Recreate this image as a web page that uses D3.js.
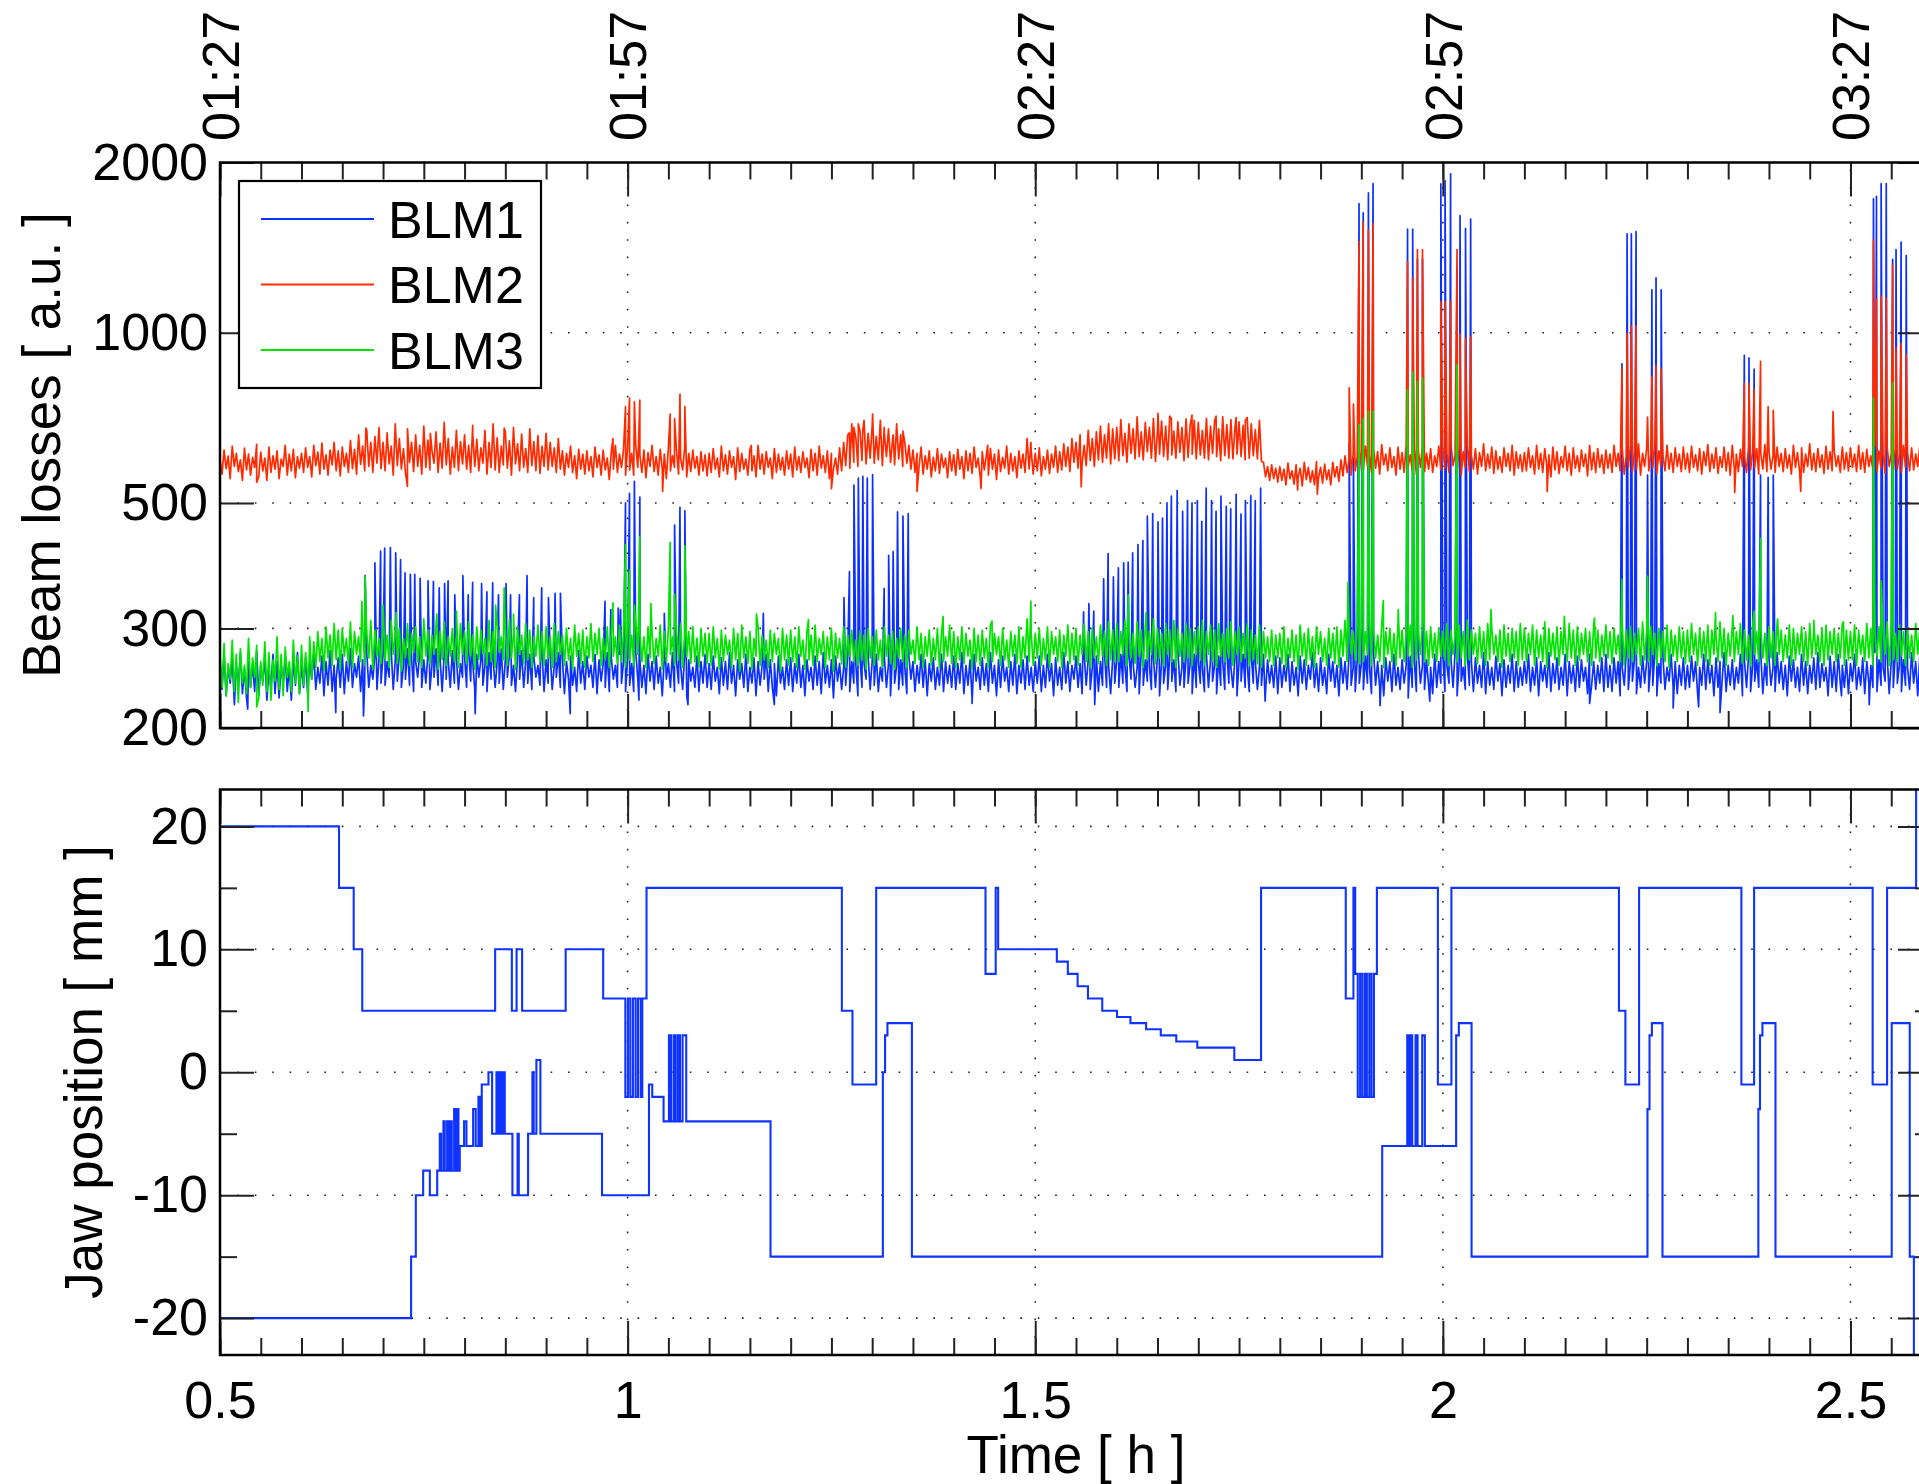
<!DOCTYPE html>
<html><head><meta charset="utf-8">
<script src="https://cdn.jsdelivr.net/npm/d3@7"></script>
<style>
body{margin:0;background:#fff}
svg{display:block}
text{font-family:"Liberation Sans",Arial,Helvetica,sans-serif;fill:#000}
</style>
</head><body>
<svg id="c" width="1919" height="1484"></svg>
<script>
// ---------------- DATA ----------------
const sampleStart = 0.5;      // h, first baseline reading
const sampleStep = 0.0025;    // h, spacing of baseline readings (one row = 0.1 h)
const seriesNames = ["BLM1", "BLM2", "BLM3"];

const blm1Base = [
262,234,270,228,256,240,266,222,258,238,272,230,254,226,268,236,260,232,274,228,258,242,266,224,254,236,270,230,262,226,258,240,268,232,256,224,264,238,272,230,
258,236,266,230,262,244,270,234,256,240,268,228,262,238,274,232,258,244,266,236,270,230,262,242,276,236,260,246,268,232,264,240,272,236,258,244,270,234,264,240,
270,238,262,246,274,234,264,242,270,236,258,244,276,238,266,232,262,246,272,236,264,240,270,234,258,246,276,238,264,232,270,244,262,236,274,240,266,234,260,246,
268,236,274,242,262,234,270,246,264,238,258,232,272,244,266,236,262,240,276,234,264,246,270,238,258,232,268,244,274,236,262,240,270,234,266,246,258,238,272,232,
264,240,270,234,258,246,272,236,266,230,262,244,268,238,256,232,274,240,262,234,268,246,258,236,270,230,264,242,260,236,272,232,266,244,258,236,270,240,262,232,
266,238,260,232,272,244,264,236,258,230,270,242,262,234,268,240,256,228,266,244,260,236,272,232,262,240,258,234,270,228,264,242,256,236,268,232,262,240,270,236,
260,234,268,242,256,230,266,238,262,234,272,240,258,228,264,244,260,236,270,232,256,240,266,228,262,238,258,244,270,232,264,236,260,228,268,240,256,234,264,238,
266,232,260,240,270,236,258,228,264,242,256,234,268,238,262,230,272,240,258,236,264,226,268,242,260,234,256,238,270,232,262,240,258,228,266,236,260,244,268,234,
262,238,270,232,256,242,266,236,260,228,272,240,258,234,264,238,256,230,268,244,262,232,258,240,270,236,264,228,260,242,266,234,256,238,270,232,262,240,258,236,
268,234,260,240,272,230,258,238,264,226,270,242,256,234,266,238,260,232,272,240,258,228,264,236,268,242,256,232,262,238,270,230,258,240,264,234,268,238,256,232,
262,240,268,232,258,236,270,242,260,228,266,238,256,234,272,240,262,232,258,244,268,236,260,230,270,238,264,234,256,242,268,232,262,238,272,236,258,230,266,240,
264,236,270,240,258,232,268,244,262,236,256,230,272,238,264,242,258,234,266,236,270,228,262,240,258,234,268,242,264,232,272,238,256,236,266,240,260,230,270,236,
262,240,256,232,270,236,264,242,258,230,268,238,262,234,272,240,256,236,266,228,262,242,270,236,258,232,268,240,262,234,256,238,270,232,264,240,258,236,268,230,
266,236,258,242,270,232,262,238,256,228,268,240,264,234,258,244,272,236,260,232,266,238,256,230,270,242,262,236,258,228,266,240,262,234,270,238,256,232,264,240,
260,234,268,240,256,230,272,238,262,236,258,228,266,242,262,232,270,238,256,234,264,240,258,226,268,236,262,232,272,240,258,234,264,238,256,230,270,236,262,240,
268,232,258,240,264,236,272,228,260,242,256,234,270,238,262,232,266,240,258,236,272,230,262,238,256,234,268,242,260,228,264,236,258,240,270,232,262,236,256,238,
262,240,270,232,256,238,266,228,262,242,258,236,272,232,260,240,266,234,256,238,270,228,262,240,258,232,268,236,264,242,256,230,270,238,262,234,258,240,266,232,
270,236,258,232,266,240,262,228,256,238,272,234,260,242,264,230,256,236,268,240,262,232,258,238,272,228,260,240,266,234,256,242,270,236,262,230,258,238,266,234,
258,236,268,242,262,230,256,238,270,234,264,240,258,228,266,236,262,242,272,232,258,238,264,234,256,240,270,228,262,236,268,232,258,242,264,236,270,230,260,238,
266,238,256,232,272,240,262,234,258,228,268,242,264,236,256,232,270,238,262,230,258,240,266,234,272,236,260,242,256,228,268,236,262,232,270,240,258,236,264,230,
260,242,270,234,256,238,266,230,262,240,258,236,272,232,264,238,256,242,268,230,262,236,270,240,258,232,264,238,256,234,272,240,262,228,268,236,258,242,266,232];

const blm2Base = [
598,562,620,575,605,552,630,580,612,568,596,548,625,572,610,560,602,578,635,556,615,570,600,548,628,566,606,574,618,552,598,580,632,560,610,570,622,554,604,576,
612,566,626,578,604,556,632,582,615,562,638,574,608,560,620,584,640,570,618,558,628,580,612,566,645,575,622,562,660,585,630,570,672,580,640,566,655,588,680,575,
640,570,665,586,630,560,690,582,650,574,624,566,676,590,640,568,660,580,632,562,684,578,646,572,620,588,668,566,638,576,694,584,650,562,628,578,672,570,642,586,
660,574,632,566,686,580,648,570,626,588,672,562,640,578,690,572,652,566,630,584,668,576,644,560,680,586,636,570,662,578,624,566,676,582,642,570,658,564,630,580,
664,572,640,580,626,566,650,574,618,560,612,578,630,566,606,552,622,574,610,562,618,570,604,556,628,578,608,560,620,572,600,550,616,574,632,566,610,578,622,560,
626,572,612,560,630,578,608,566,620,554,614,580,632,568,604,560,622,574,610,552,626,570,606,578,618,562,600,572,628,556,612,568,620,576,604,560,616,570,608,558,
612,566,624,574,600,556,630,570,608,562,618,578,604,550,626,568,612,574,598,560,622,570,606,556,632,574,610,562,616,578,600,552,624,566,610,572,602,560,618,574,
610,556,628,572,604,566,616,578,600,554,622,570,612,560,630,576,606,566,618,552,612,574,600,562,626,570,640,582,660,576,690,590,650,580,672,594,700,586,664,600,
684,588,656,596,700,582,662,604,676,590,648,584,690,598,660,580,640,588,632,574,620,566,612,580,628,562,606,574,618,556,602,570,624,564,610,578,600,554,616,570,
608,560,622,574,604,552,618,570,612,564,628,578,600,556,616,572,606,560,624,574,610,550,620,568,602,576,630,562,612,570,604,554,618,576,610,566,650,574,620,562,
612,570,626,558,604,574,620,564,610,578,630,566,616,572,636,580,628,568,650,590,640,576,660,588,632,582,672,594,650,580,668,596,684,590,660,600,690,586,676,598,
680,594,702,606,664,590,690,612,676,598,710,604,668,596,694,616,680,600,706,592,672,610,698,604,684,596,712,608,670,600,696,614,680,594,704,602,686,610,700,598,
694,608,672,600,706,596,684,612,698,604,676,594,710,606,688,600,702,598,680,610,696,604,686,596,708,600,690,606,674,598,700,592,590,556,580,548,584,552,576,544,
580,548,574,538,588,552,570,540,584,556,576,536,590,550,578,544,570,538,592,554,578,542,586,550,572,538,590,556,580,546,596,558,606,566,598,560,612,570,604,566,
618,572,630,580,608,566,624,576,616,562,634,584,610,570,626,578,604,560,628,574,614,566,632,580,608,570,622,562,616,578,636,568,612,574,624,566,606,580,630,572,
622,576,612,566,634,582,608,570,626,560,616,578,630,568,606,574,624,562,614,580,636,570,610,576,628,564,618,574,604,566,626,580,612,570,632,560,616,576,608,568,
614,570,626,578,606,562,632,574,612,566,624,580,608,556,628,572,616,564,604,578,630,570,612,560,626,576,606,568,620,580,610,558,632,572,614,566,624,578,608,564,
620,576,610,566,632,580,612,570,626,562,606,578,630,568,616,574,636,560,612,580,624,570,608,576,628,564,618,582,606,570,632,574,612,566,626,580,610,568,628,574,
612,566,630,578,608,570,624,562,616,582,634,568,610,576,626,564,604,578,628,570,614,560,632,576,610,568,622,580,606,566,630,572,616,578,624,562,612,574,634,568,
618,574,606,566,628,580,612,568,624,576,608,562,632,578,614,570,626,566,610,580,636,572,612,568,624,578,608,564,630,574,616,570,620,580,606,566,628,574,614,570,
626,578,610,568,632,574,614,566,622,580,606,572,630,568,618,576,610,564,628,580,612,570,624,574,608,566,632,578,616,570,626,572,610,580,630,566,614,576,624,570];

const blm3Base = [
268,236,282,228,260,244,286,232,270,222,276,240,258,230,288,236,266,246,280,226,262,238,284,232,272,224,264,242,290,234,270,228,278,246,262,232,286,240,268,230,
280,238,272,248,290,244,284,256,296,262,288,252,302,266,292,258,306,264,298,254,300,268,288,260,308,256,296,270,290,262,304,258,294,266,310,254,298,268,288,260,
304,264,292,256,310,270,296,260,300,252,288,266,306,258,294,272,302,262,290,256,312,268,298,260,292,270,304,254,296,264,308,258,290,268,300,262,294,256,306,270,
296,260,308,268,292,254,302,264,298,270,288,258,310,262,296,256,304,272,290,264,300,258,312,266,294,254,302,270,292,260,306,264,298,256,290,268,304,262,296,258,
302,266,290,256,306,262,296,270,292,258,300,264,288,254,304,268,294,260,298,256,290,266,306,262,294,270,300,258,288,264,302,256,296,268,290,260,304,262,294,256,
300,264,292,258,306,270,296,262,290,256,302,266,294,260,288,268,304,254,296,262,300,270,290,258,298,264,306,256,292,268,296,260,302,262,288,256,300,268,294,260,
294,258,302,266,288,254,298,262,292,270,286,256,300,264,294,252,304,266,290,260,296,254,288,268,302,258,292,264,286,256,298,262,294,270,288,252,300,264,292,258,
298,262,290,256,302,268,286,254,296,264,292,258,304,262,288,270,296,256,290,264,300,252,294,266,288,260,302,256,292,268,298,262,286,258,296,264,292,254,300,266,
290,258,298,264,286,256,302,268,292,260,296,254,288,266,300,262,292,256,298,270,286,260,302,264,294,256,290,268,298,258,288,264,300,256,294,262,290,268,304,260,
296,256,290,264,302,260,294,268,286,254,300,262,292,258,298,266,288,256,304,262,294,270,290,258,300,264,286,256,296,268,292,260,302,256,290,266,312,262,296,258,
294,266,300,258,288,264,302,256,296,270,290,262,298,256,292,268,304,260,294,264,300,258,292,270,306,262,296,256,300,266,290,260,304,268,296,258,308,264,298,262,
306,262,296,270,310,258,300,266,294,260,308,268,298,256,304,264,296,270,312,260,300,266,294,258,306,270,298,262,310,256,300,268,294,262,306,266,300,258,296,270,
302,264,310,258,296,270,304,262,298,256,306,268,294,262,300,266,308,258,296,270,302,262,294,266,306,258,298,264,292,260,304,256,296,266,290,262,298,258,292,266,
294,260,302,256,288,266,298,262,292,254,304,268,294,258,300,264,290,256,302,270,296,262,288,258,300,266,294,260,302,256,298,268,310,262,300,270,296,264,304,260,
302,262,296,270,308,258,298,266,292,262,304,256,296,270,300,262,294,258,306,266,298,262,292,268,304,256,300,264,294,270,308,262,296,258,302,266,294,262,300,268,
296,264,306,258,298,270,292,262,304,266,296,258,310,264,298,270,294,260,302,266,296,258,306,264,300,270,292,262,298,256,304,268,294,262,300,266,296,258,306,264,
300,262,294,270,304,258,298,266,292,262,308,256,300,268,294,264,302,258,296,270,292,262,306,266,298,258,302,264,294,270,300,262,296,258,304,266,298,262,292,268,
304,266,296,260,300,270,292,262,306,258,298,266,302,262,294,270,300,258,308,264,296,262,302,270,294,258,300,266,296,262,304,256,298,268,292,262,302,266,296,260,
298,262,306,270,294,258,300,266,296,262,304,258,298,270,292,262,308,266,300,258,294,268,302,262,296,270,306,260,298,264,292,258,304,270,296,262,300,266,294,258,
302,266,296,258,306,270,298,262,292,266,304,258,300,264,294,270,302,262,296,258,306,266,298,270,292,262,300,258,304,264,296,270,300,262,294,266,306,258,298,264,
296,264,304,258,298,270,292,262,306,266,300,258,294,268,302,262,296,270,308,258,300,264,294,262,304,268,296,258,300,266,292,262,306,270,298,258,302,264,296,266];

// spikes and outliers: [time h, value]
const blm1Spikes = [
[0.5176,220],[0.534,216],[0.642,213],[0.676,210],
[0.678,372],[0.690,392],[0.697,411],[0.702,416],[0.709,417],[0.7155,408],[0.7215,397],[0.727,376],
[0.7335,374],[0.7389,374],[0.7455,368],[0.7552,364],[0.7618,363],[0.7689,354],[0.7755,360],[0.7798,364],
[0.788,344],[0.7979,372],[0.8045,344],[0.8099,362],[0.813,212],[0.8209,360],[0.8274,348],[0.8345,361],[0.8416,344],
[0.8509,360],[0.8564,344],[0.8673,344],[0.8766,372],[0.8848,340],[0.8946,354],[0.9029,340],[0.911,346],[0.9176,346],
[0.9296,212],[0.9723,335],[0.9794,324],[0.9885,326],[0.9914,324],
[0.9974,500],[1.0023,520],[1.0083,546],[1.0139,224],[1.0150,512],[1.045,319],[1.0576,457],[1.0642,491],[1.0702,484],
[1.074,220],[1.1665,319],[1.180,220],
[1.2654,340],[1.2721,378],[1.2776,538],[1.283,553],[1.2885,557],[1.294,553],[1.3005,561],
[1.3147,353],[1.3202,404],[1.3257,410],[1.3311,482],[1.3377,474],[1.3442,479],[1.4225,221],
[1.5593,321],[1.5658,332],[1.5718,322],[1.573,220],[1.5839,367],[1.5894,407],[1.5959,370],[1.6020,384],[1.6085,392],
[1.6140,393],[1.6195,408],[1.6260,422],[1.6320,429],[1.6375,474],[1.6441,479],[1.6506,463],[1.6561,470],
[1.6616,500],[1.6670,514],[1.6741,526],[1.6808,483],[1.6868,505],[1.6923,500],[1.6988,505],[1.7043,464],
[1.7097,531],[1.7163,505],[1.7218,483],[1.7278,514],[1.7343,493],[1.7398,488],[1.7464,518],[1.7524,478],
[1.7578,505],[1.7644,515],[1.7699,505],[1.7765,531],[1.782,223],
[1.8851,640],[1.8903,600],[1.8972,1691],[1.9023,1629],[1.9087,1767],[1.9144,1835],[1.923,219],
[1.9567,1525],[1.9630,1525],[1.9688,1350],[1.9750,1350],[1.984,223],
[1.9975,1833],[2.0027,1858],[2.0095,1910],[2.0174,1300],[2.0211,1611],[2.0278,1529],[2.0341,1589],
[2.180,221],
[2.2197,881],[2.226,1495],[2.2312,1495],[2.237,1509],[2.2511,560],[2.2564,1191],[2.2615,1251],[2.2678,1191],
[2.2825,217],[2.3137,218],[2.340,213],
[2.3698,912],[2.3755,903],[2.3818,862],[2.3897,560],[2.3990,555],[2.4053,560],[2.489,228],[2.523,220],
[2.5282,1725],[2.5319,1743],[2.5376,1835],[2.5439,1835],[2.5517,1348],[2.5559,1403],[2.5621,1447],[2.5684,1369]];

const blm2Spikes = [
[0.545,544],[0.679,678],[0.7299,535],[0.758,664],[0.81,664],[0.8486,678],
[0.982,650],[0.9974,740],[1.0023,766],[1.0083,755],[1.0150,760],[1.0429,524],[1.0522,718],[1.0576,705],[1.0642,779],[1.0702,740],
[1.1517,632],[1.25,530],
[1.2721,665],[1.2776,680],[1.283,690],[1.2885,672],[1.3005,718],[1.3147,680],[1.3257,660],[1.3377,670],
[1.355,524],[1.4335,530],[1.4417,632],[1.4947,640],[1.5564,534],
[1.6506,720],[1.6670,705],[1.6923,715],[1.7218,712],[1.7464,708],[1.7578,700],
[1.8219,527],[1.846,518],
[1.8851,799],[1.8903,748],[1.8972,1450],[1.9023,1568],[1.9087,1522],[1.9144,1558],
[1.9567,1336],[1.9630,1250],[1.9688,1403],[1.9750,1403],
[1.9975,1135],[2.0027,1135],[2.0095,1135],[2.0174,1403],[2.0211,993],[2.0278,975],[2.0341,983],
[2.128,524],
[2.2197,866],[2.226,996],[2.2312,1027],[2.237,1027],[2.2511,709],[2.2564,836],[2.2615,875],[2.2678,862],
[2.358,522],
[2.3698,814],[2.3755,814],[2.3818,793],[2.3897,890],[2.3990,740],[2.4053,729],
[2.439,524],[2.4786,726],
[2.5282,1459],[2.5319,1146],[2.5376,1160],[2.5439,1150],[2.5517,1318],[2.5559,940],[2.5621,957],[2.5684,915]];

const blm3Spikes = [
[0.545,218],[0.608,214],
[0.674,335],[0.678,370],[0.700,330],[0.716,320],[0.766,318],[0.790,322],[0.838,330],[0.8486,354],[0.860,318],
[0.982,333],[0.9974,422],[1.0023,380],[1.0083,330],[1.0150,436],[1.0286,332],[1.0522,426],[1.0576,345],[1.0702,420],
[1.158,318],[1.2218,311],[1.387,315],[1.447,309],[1.4947,335],[1.614,344],[1.636,320],
[1.8836,362],[1.8972,688],[1.9023,705],[1.9087,726],[1.9144,726],[1.927,336],[1.9452,324],
[1.9567,793],[1.9630,852],[1.9688,820],[1.9750,831],[2.0174,878],[2.059,324],
[2.149,315],[2.186,313],
[2.2197,366],[2.2511,371],[2.3345,320],[2.3557,316],[2.3818,322],[2.3897,433],[2.4106,312],[2.455,310],[2.4914,308],
[2.5282,766],[2.5376,364],[2.5517,816]];

// jaw positions: [time h, position mm] (value held until next point)
const upperJaw = [
[0.5,20],[0.646,15],[0.664,10],[0.6745,5],[0.8375,10],[0.858,5],[0.8638,10],[0.8706,5],[0.924,10],[0.97,6],
[0.9972,-2],[1.0004,6],[1.0033,-2],[1.0065,6],[1.0098,-2],[1.0127,6],[1.0160,-2],[1.0180,6],
[1.0232,15],[1.2628,5],[1.2758,-1],[1.3049,15],[1.439,8],[1.4515,15],[1.4545,10],[1.5265,9],[1.540,8],
[1.552,7],[1.5647,6],[1.5822,5],[1.6003,4.5],[1.6168,4],[1.636,3.5],[1.654,3],[1.673,2.5],[1.6988,2],
[1.7442,1],[1.777,15],[1.8809,6],[1.8903,15],[1.8925,8],
[1.8956,-2],[1.8985,8],[1.9012,-2],[1.9042,8],[1.9068,-2],[1.9098,8],[1.9125,-2],[1.9155,8],
[1.9191,15],[1.9939,-1],[2.0105,15],[2.216,5],[2.2239,-1],[2.2407,15],[2.3662,-1],[2.3818,15],
[2.5272,-1],[2.5449,15],[2.5805,26],[2.6,26]];

const lowerJaw = [
[0.5,-20],[0.7344,-15],[0.7402,-10],[0.7492,-8],[0.7574,-10],[0.7664,-8],
[0.7696,-5],[0.7712,-8],[0.7741,-4],[0.7757,-8],[0.7786,-4],[0.7802,-8],[0.7827,-4],[0.7843,-8],
[0.7872,-3],[0.7888,-8],[0.7908,-3],[0.7925,-8],[0.7941,-6],[0.7994,-4],[0.8023,-6],
[0.8105,-3],[0.8137,-6],[0.8170,-2],[0.8186,-6],[0.8211,-1],[0.8293,0],[0.8338,-5],
[0.8391,0],[0.8405,-5],[0.8419,0],[0.8435,-5],[0.8450,0],[0.8470,-5],[0.8480,0],[0.8493,-5],
[0.8587,-10],[0.8650,-5],[0.8665,-10],[0.8779,-5],[0.8832,0],[0.8848,-5],[0.8881,1],[0.8930,-5],
[0.9686,-10],[1.0262,-1],[1.0302,-2],[1.0441,-4],
[1.0507,3],[1.0532,-4],[1.0564,3],[1.0589,-4],[1.0617,3],[1.0642,-4],[1.0674,3],[1.0719,-4],
[1.1753,-15],[1.3131,0],[1.3158,3],[1.3187,4],[1.3487,-15],[1.9256,-6],
[1.9563,3],[1.9580,-6],[1.9604,3],[1.9624,-6],[1.9665,3],[1.9690,-6],[1.9747,3],[1.9779,-6],
[2.0163,3],[2.0196,4],[2.0352,-15],[2.251,-3],[2.2535,3],[2.2564,4],[2.2694,-15],
[2.387,-3],[2.389,3],[2.392,4],[2.408,-15],[2.5506,4],[2.5727,-15],[2.5778,-26],[2.6,-26]];

// ticks
const timeMajor = [0.5, 1, 1.5, 2, 2.5];
const timeMajorLabels = ["0.5", "1", "1.5", "2", "2.5"];
const clockLabels = ["01:27", "01:57", "02:27", "02:57", "03:27"];
const lossTicks = [200, 300, 500, 1000, 2000];
const lossGrid = [300, 500, 1000];
const jawTicks = [-20, -10, 0, 10, 20];
const jawMinor = [-15, -5, 5, 15];

// ---------------- LAYOUT ----------------
const FONT = '"Liberation Sans", Arial, Helvetica, sans-serif';
const L = 220, R = 1932;
const T1 = 162.5, B1 = 728, T2 = 789.5, B2 = 1355;
const colors = ["#0c30ff", "#ff2a00", "#00e400"];
const jawColor = "#1034ff";

const x = d3.scaleLinear().domain([0.5, 2.6]).range([L, R]);
const y1 = d3.scaleLog().domain([200, 2000]).range([B1, T1]);
const y2 = d3.scaleLinear().domain([-23, 23]).range([B2, T2]);
const minorTimes = d3.range(0, 43).map(i => 0.5 + i * 0.05);
const hyphenFmt = d => (d < 0 ? "-" : "") + Math.abs(d);

const svg = d3.select("#c");
const defs = svg.append("defs");
defs.append("clipPath").attr("id", "clip1").append("rect")
  .attr("x", L).attr("y", T1).attr("width", R - L).attr("height", B1 - T1);
defs.append("clipPath").attr("id", "clip2").append("rect")
  .attr("x", L).attr("y", T2).attr("width", R - L).attr("height", B2 - T2);

// grid
function dotted(sel) {
  return sel.attr("stroke", "#222").attr("stroke-width", 1.6).attr("stroke-dasharray", "1.6,15.8");
}
const grid = svg.append("g");
[[T1, B1], [T2, B2]].forEach(([t, b]) => {
  grid.selectAll(null).data(timeMajor.slice(1)).enter().append("line")
    .attr("x1", d => x(d)).attr("x2", d => x(d)).attr("y1", b).attr("y2", t).call(dotted);
});
grid.selectAll(null).data(lossGrid).enter().append("line")
  .attr("x1", L).attr("x2", R).attr("y1", d => y1(d)).attr("y2", d => y1(d)).call(dotted);
grid.selectAll(null).data(jawTicks).enter().append("line")
  .attr("x1", L).attr("x2", R).attr("y1", d => y2(d)).attr("y2", d => y2(d)).call(dotted);

// loss series
function build(base, spikes) {
  const pts = base.map((v, i) => [sampleStart + i * sampleStep, v]);
  spikes.forEach(s => pts.push(s));
  pts.sort((a, b) => a[0] - b[0]);
  return pts;
}
const lossSeries = [
  build(blm1Base, blm1Spikes),
  build(blm2Base, blm2Spikes),
  build(blm3Base, blm3Spikes)];
const lossLine = d3.line().x(d => x(d[0])).y(d => y1(d[1]));
const g1 = svg.append("g").attr("clip-path", "url(#clip1)");
lossSeries.forEach((s, i) => {
  g1.append("path").datum(s).attr("d", lossLine).attr("fill", "none")
    .attr("stroke", colors[i]).attr("stroke-width", 1.7).attr("stroke-linejoin", "round");
});

// jaw series
const jawLine = d3.line().x(d => x(d[0])).y(d => y2(d[1])).curve(d3.curveStepAfter);
const g2 = svg.append("g").attr("clip-path", "url(#clip2)");
[upperJaw, lowerJaw].forEach(s => {
  g2.append("path").datum(s).attr("d", jawLine).attr("fill", "none")
    .attr("stroke", jawColor).attr("stroke-width", 2.1);
});

// axes ticks
function styleAxis(g) {
  g.select(".domain").remove();
  g.attr("font-family", FONT).attr("font-size", 52);
  g.selectAll(".tick line").attr("stroke", "#222").attr("stroke-width", 2);
  g.selectAll(".tick text").attr("fill", "#000");
}
function xTicks(yPos, axisFn) {
  svg.append("g").attr("transform", `translate(0,${yPos})`)
    .call(axisFn(x).tickValues(minorTimes).tickSize(-17).tickFormat("")).call(styleAxis);
  svg.append("g").attr("transform", `translate(0,${yPos})`)
    .call(axisFn(x).tickValues(timeMajor).tickSize(-34).tickFormat("")).call(styleAxis);
}
xTicks(T1, d3.axisTop); xTicks(B1, d3.axisBottom);
xTicks(T2, d3.axisTop);
svg.append("g").attr("transform", `translate(0,${B2})`)
  .call(d3.axisBottom(x).tickValues(minorTimes).tickSize(-17).tickFormat("")).call(styleAxis);
svg.append("g").attr("transform", `translate(0,${B2})`)
  .call(d3.axisBottom(x).tickValues(timeMajor).tickSize(-34).tickPadding(26)
    .tickFormat((d, i) => timeMajorLabels[i])).call(styleAxis);

// y axes
svg.append("g").attr("transform", `translate(${L},0)`)
  .call(d3.axisLeft(y1).tickValues(lossTicks).tickSize(-34).tickPadding(12).tickFormat(hyphenFmt))
  .call(styleAxis);
svg.append("g").attr("transform", `translate(${R},0)`)
  .call(d3.axisRight(y1).tickValues(lossTicks).tickSize(-34).tickFormat("")).call(styleAxis);
svg.append("g").attr("transform", `translate(${L},0)`)
  .call(d3.axisLeft(y2).tickValues(jawTicks).tickSize(-34).tickPadding(12).tickFormat(hyphenFmt))
  .call(styleAxis);
svg.append("g").attr("transform", `translate(${L},0)`)
  .call(d3.axisLeft(y2).tickValues(jawMinor).tickSize(-17).tickFormat("")).call(styleAxis);
svg.append("g").attr("transform", `translate(${R},0)`)
  .call(d3.axisRight(y2).tickValues(jawTicks).tickSize(-34).tickFormat("")).call(styleAxis);
svg.append("g").attr("transform", `translate(${R},0)`)
  .call(d3.axisRight(y2).tickValues(jawMinor).tickSize(-17).tickFormat("")).call(styleAxis);

// boxes
[[T1, B1], [T2, B2]].forEach(([t, b]) => {
  svg.append("rect").attr("x", L).attr("y", t).attr("width", R - L).attr("height", b - t)
    .attr("fill", "none").attr("stroke", "#000").attr("stroke-width", 2.5);
});

// clock labels on top
svg.append("g").selectAll("text").data(timeMajor).enter().append("text")
  .attr("transform", d => `translate(${x(d)},141) rotate(-90)`)
  .attr("dy", "0.36em").attr("text-anchor", "start")
  .attr("font-size", 52).text((d, i) => clockLabels[i]);

// axis titles
svg.append("text").attr("transform", "translate(60,445) rotate(-90)")
  .attr("text-anchor", "middle").attr("font-size", 53).text("Beam losses [ a.u. ]");
svg.append("text").attr("transform", "translate(102,1072) rotate(-90)")
  .attr("text-anchor", "middle").attr("font-size", 53).text("Jaw position [ mm ]");
svg.append("text").attr("x", 1076).attr("y", 1473)
  .attr("text-anchor", "middle").attr("font-size", 53).text("Time [ h ]");

// legend
const lg = svg.append("g");
lg.append("rect").attr("x", 239).attr("y", 181).attr("width", 302).attr("height", 207)
  .attr("fill", "#fff").attr("stroke", "#000").attr("stroke-width", 2.2);
const legendRows = [219, 284.5, 350];
seriesNames.forEach((n, i) => {
  lg.append("line").attr("x1", 261).attr("x2", 374).attr("y1", legendRows[i]).attr("y2", legendRows[i])
    .attr("stroke", colors[i]).attr("stroke-width", 2);
  lg.append("text").attr("x", 388).attr("y", legendRows[i]).attr("dy", "0.36em")
    .attr("font-size", 52).text(n);
});
</script>
</body></html>
